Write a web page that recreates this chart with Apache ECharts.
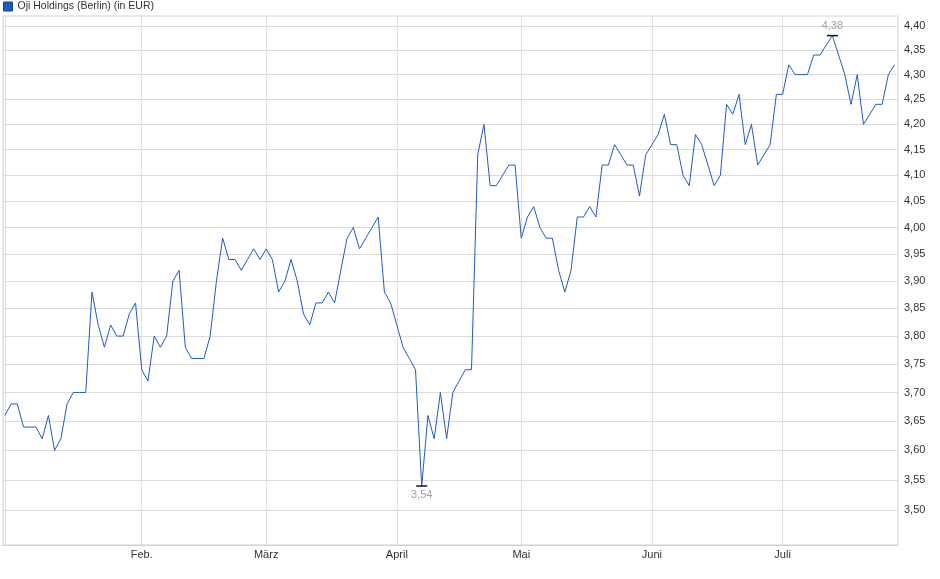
<!DOCTYPE html>
<html>
<head>
<meta charset="utf-8">
<script src="https://cdn.jsdelivr.net/npm/echarts@6/dist/echarts.min.js"></script>
<style>
html,body{margin:0;padding:0;background:#fff;}
#chart{width:940px;height:579px;}
</style>
</head>
<body>
<div id="chart"></div>
<script>
// Trading-day closing prices (EUR), index 0 = first trading day in January
var prices = [
  3.66,3.68,3.68,3.64,3.64,3.64,3.62,3.66,3.60,3.62,
  3.68,3.70,3.70,3.70,3.88,3.82,3.78,3.82,3.80,3.80,
  3.84,3.86,3.74,3.72,3.80,3.78,3.80,3.90,3.92,3.78,
  3.76,3.76,3.76,3.80,3.90,3.98,3.94,3.94,3.92,3.94,
  3.96,3.94,3.96,3.94,3.88,3.90,3.94,3.90,3.84,3.82,
  3.86,3.86,3.88,3.86,3.92,3.98,4.00,3.96,3.98,4.00,
  4.02,3.88,3.86,3.82,3.78,3.76,3.74,3.54,3.66,3.62,
  3.70,3.62,3.70,3.72,3.74,3.74,4.14,4.20,4.08,4.08,
  4.10,4.12,4.12,3.98,4.02,4.04,4.00,3.98,3.98,3.92,
  3.88,3.92,4.02,4.02,4.04,4.02,4.12,4.12,4.16,4.14,
  4.12,4.12,4.06,4.14,4.16,4.18,4.22,4.16,4.16,4.10,
  4.08,4.18,4.16,4.12,4.08,4.10,4.24,4.22,4.26,4.16,
  4.20,4.12,4.14,4.16,4.26,4.26,4.32,4.30,4.30,4.30,
  4.34,4.34,4.36,4.38,4.34,4.30,4.24,4.30,4.20,4.22,
  4.24,4.24,4.30,4.32
];
// Month starts (trading-day index) and their labels
var monthIndex = [0, 22, 42, 63, 83, 104, 125];
var monthLabels = ['', 'Feb.', 'März', 'April', 'Mai', 'Juni', 'Juli'];
// Price axis tick labels (logarithmic scale)
var priceTicks = [3.50,3.55,3.60,3.65,3.70,3.75,3.80,3.85,3.90,3.95,4.00,4.05,4.10,4.15,4.20,4.25,4.30,4.35,4.40];
var seriesName = 'Oji Holdings (Berlin) (in EUR)';

function fmt(v){ return v.toFixed(2).replace('.', ','); }

var chart = echarts.init(document.getElementById('chart'), null, {renderer:'canvas'});
var lineData = prices.map(function(v, i){ return [i, Math.log(v)]; });

chart.setOption({
  animation: false,
  textStyle: {fontFamily: 'Liberation Sans, Arial, sans-serif'},
  legend: {
    left: 3, top: 1, padding: 0,
    icon: 'rect', itemWidth: 9, itemHeight: 9,
    itemStyle: {borderColor: '#223f7a', borderWidth: 1},
    textStyle: {fontSize: 10.5, color: '#333'},
    data: [seriesName]
  },
  grid: {
    left: 3, right: 42, top: 16, bottom: 34,
    show: true, borderColor: '#d0d0d0', borderWidth: 1
  },
  xAxis: {
    type: 'value',
    min: -0.3, max: 143.55,
    axisLine: {show: true, lineStyle: {color: '#d0d0d0'}},
    axisTick: {show: false, customValues: monthIndex},
    splitLine: {show: true, lineStyle: {color: '#e0e0e0', width: 1}},
    axisLabel: {
      customValues: monthIndex,
      margin: 4,
      fontSize: 11, color: '#333',
      formatter: function(v){ var k = monthIndex.indexOf(Math.round(v)); return k >= 0 ? monthLabels[k] : ''; }
    }
  },
  yAxis: {
    type: 'value',
    position: 'right',
    min: Math.log(3.4426), max: Math.log(4.4208),
    axisLine: {show: false},
    axisTick: {show: false, customValues: priceTicks.map(Math.log)},
    splitLine: {show: true, lineStyle: {color: '#dcdcdc', width: 1}},
    axisLabel: {
      customValues: priceTicks.map(Math.log),
      margin: 6,
      fontSize: 11, color: '#333',
      formatter: function(v){ return fmt(Math.exp(v)); }
    }
  },
  series: [{
    name: seriesName,
    type: 'line',
    data: lineData,
    showSymbol: false,
    symbol: 'none',
    color: '#1c5bc6',
    lineStyle: {width: 1, color: '#1c5bc6'},
    markPoint: {
      symbol: 'rect',
      symbolSize: [11, 1.5],
      itemStyle: {color: '#111'},
      label: {
        fontSize: 11, color: '#a0a0a0',
        formatter: function(p){ return fmt(Math.exp(p.value)); }
      },
      data: [
        {type: 'max', valueDim: 'y', label: {position: 'top', distance: 3}},
        {type: 'min', valueDim: 'y', label: {position: 'bottom', distance: 3}}
      ]
    }
  }]
});
</script>
</body>
</html>
